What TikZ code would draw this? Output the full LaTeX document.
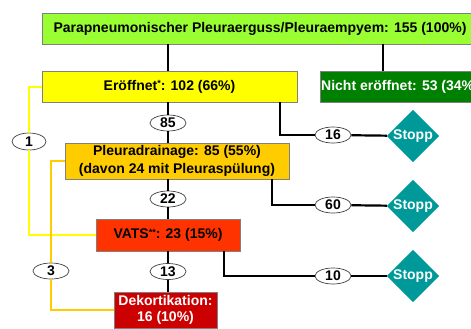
\documentclass[tikz,border=0pt]{standalone}
\usepackage{fontspec}
\setmainfont{Liberation Sans}
\usetikzlibrary{shapes.geometric}
\definecolor{topgreen}{HTML}{99FF33}
\definecolor{boxyellow}{HTML}{FFFF00}
\definecolor{darkgreen}{HTML}{008000}
\definecolor{boxorange}{HTML}{FFCC00}
\definecolor{vatsred}{HTML}{FF3300}
\definecolor{dekred}{HTML}{CC0000}
\definecolor{stoppteal}{HTML}{009999}
\definecolor{bordergray}{HTML}{808080}
\newcommand{\smallstar}[1]{\raisebox{3.4pt}{\fontsize{9}{9}\selectfont #1}}
\begin{document}
\begin{tikzpicture}[x=1pt,y=-1pt,
  box/.style={draw=bordergray, line width=0.8pt, rectangle, inner sep=0pt, align=center,
    font=\fontsize{14}{18}\selectfont\bfseries},
  num/.style={ellipse, draw=black!75, fill=white, line width=0.7pt, minimum width=36pt,
    minimum height=16pt, inner sep=0pt, font=\fontsize{14}{16}\selectfont\bfseries},
  stopp/.style={diamond, fill=stoppteal, minimum width=52pt, minimum height=49pt,
    inner sep=0pt, text=white, font=\fontsize{14}{16}\selectfont\bfseries},
  conn/.style={line width=2.2pt, black},
  yconn/.style={line width=2.4pt, boxyellow},
  oconn/.style={line width=2.4pt, boxorange}]
\useasboundingbox (0,0) rectangle (471,329);

% boxes
\node[box, fill=topgreen, minimum width=436pt, minimum height=31pt] (top) at (260,28.5)
  {Parapneumonischer Pleuraerguss/Pleuraempyem: 155 (100\%)};
\node[box, fill=boxyellow, minimum width=255pt, minimum height=31pt] (eroff) at (169.5,86.5)
  {Eröffnet\smallstar{*}: 102 (66\%)};
\node[box, fill=darkgreen, text=white, minimum width=160pt, minimum height=31pt] (nicht) at (400,86.5)
  {Nicht eröffnet: 53 (34\%)};
\node[box, fill=boxorange, minimum width=224pt, minimum height=36pt] (drain) at (177,161)
  {Pleuradrainage: 85 (55\%)\\(davon 24 mit Pleuraspülung)};
\node[box, fill=vatsred, minimum width=144pt, minimum height=32pt] (vats) at (168,235)
  {VATS\smallstar{**}: 23 (15\%)};
\node[box, fill=dekred, text=white, minimum width=103pt, minimum height=36pt,
  font=\fontsize{14}{16.5}\selectfont\bfseries] (dek) at (165.5,310)
  {Dekortikation:\\16 (10\%)};

% ellipses
\node[num] (n85) at (168,123) {85};
\node[num] (n22) at (168,199) {22};
\node[num] (n13) at (168,271.5) {13};
\node[num] (n16) at (333,135) {16};
\node[num] (n60) at (333,205) {60};
\node[num] (n10) at (333,276) {10};
\node[num, minimum width=34pt, minimum height=17pt] (n1) at (29,141.5) {1};
\node[num] (n3) at (51,271) {3};

% stop diamonds
\node[stopp] (s1) at (413,136) {Stopp};
\node[stopp] (s2) at (413,206) {Stopp};
\node[stopp] (s3) at (413,276) {Stopp};

% helper coordinates
\coordinate (xa) at (168,0);
\coordinate (xb) at (383,0);
\coordinate (xc) at (280,0);
\coordinate (xd) at (272,0);
\coordinate (xe) at (224,0);
\coordinate (ya) at (0,87);
\coordinate (yb) at (0,161);

% black connectors
\draw[conn] (top.south -| xa) -- (eroff.north -| xa);
\draw[conn] (top.south -| xb) -- (nicht.north -| xb);
\draw[conn] (eroff.south -| xa) -- (n85);
\draw[conn] (n85) -- (drain.north -| xa);
\draw[conn] (eroff.south -| xc) |- (n16);
\draw[conn] (n16) -- (s1);
\draw[conn] (drain.south -| xa) -- (n22);
\draw[conn] (n22) -- (vats.north -| xa);
\draw[conn] (drain.south -| xd) |- (n60);
\draw[conn] (n60) -- (s2);
\draw[conn] (vats.south -| xa) -- (n13);
\draw[conn] (n13) -- (dek.north -| xa);
\draw[conn] (vats.south -| xe) |- (n10);
\draw[conn] (n10) -- (s3);

% yellow connector (Eröffnet -> VATS)
\draw[yconn] (eroff.west |- ya) -| (n1.north);
\draw[yconn] (n1.south) |- (vats.west);
% orange connector (Pleuradrainage -> Dekortikation)
\draw[oconn] (drain.west |- yb) -| (n3.north);
\draw[oconn] (n3.south) |- (dek.west);
\end{tikzpicture}
\end{document}
